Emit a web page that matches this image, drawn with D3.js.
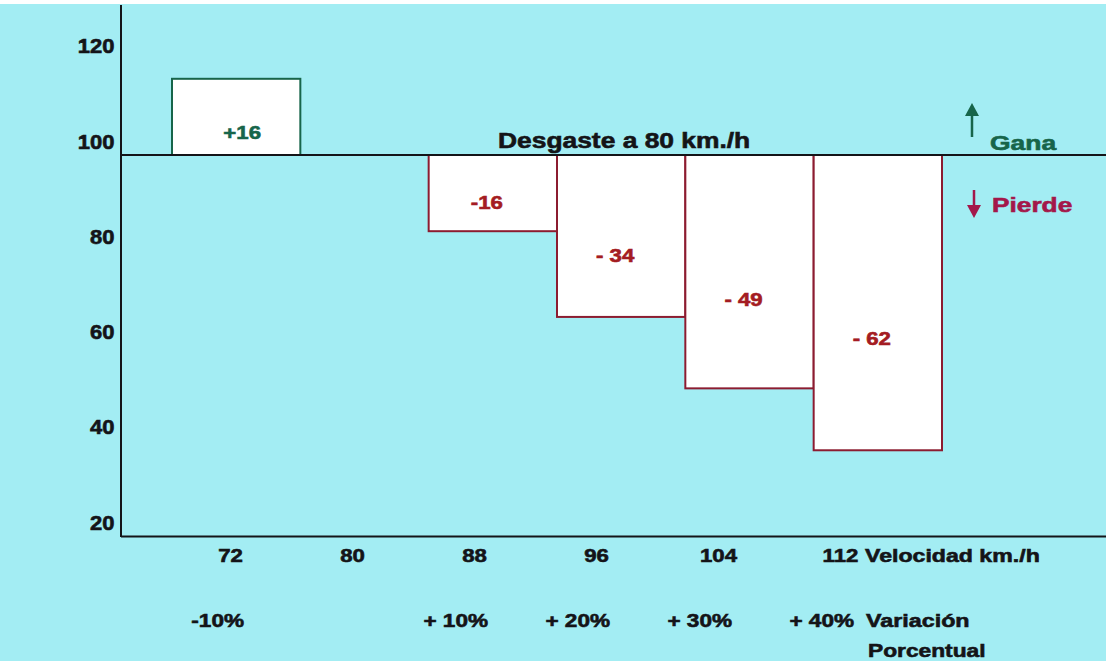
<!DOCTYPE html>
<html>
<head>
<meta charset="utf-8">
<script src="https://cdn.jsdelivr.net/npm/d3@7"></script>
<style>
  html, body { margin: 0; padding: 0; background: #fff; }
  svg { display: block; }
  text { font-family: "Liberation Sans", Arial, Helvetica, sans-serif; font-weight: bold; }
</style>
</head>
<body>
<svg id="chart" width="1106" height="661"></svg>
<script>
// Travel speed (km/h) and the change in wear relative to 80 km/h (= 100)
const speeds = [72, 80, 88, 96, 104, 112];
const wearChange = [16, null, -16, -34, -49, -62];
const changeLabels = ["+16", "", "-16", "- 34", "- 49", "- 62"];
const speedVariation = ["-10%", "", "+ 10%", "+ 20%", "+ 30%", "+ 40%"];
const yTicks = [20, 40, 60, 80, 100, 120];
const referenceLevel = 100;

const W = 1106, H = 661;
const ink = "#141418";
const gainColor = "#17654a";
const lossStroke = "#8c1c30";
const lossText = "#a41c22";
const loseLegend = "#a3174a";

const svg = d3.select("#chart");
svg.append("rect").attr("width", W).attr("height", H).attr("fill", "#fff");
svg.append("rect").attr("y", 4).attr("width", W).attr("height", H - 4).attr("fill", "#a3edf3");

const axisX = 121;
const y = d3.scaleLinear().domain([20, referenceLevel]).range([536, 155]);
const xBar = d3.scaleBand().domain(speeds).range([172, 942]).padding(0);
const xLab = d3.scalePoint().domain(speeds).range([230, 840]);

// heavy, slightly widened text
function label(g, x, yy, txt, size, fill, anchor = "start", sx = 1.22) {
  return g.append("text")
    .attr("transform", `translate(${x},${yy}) scale(${sx},1)`)
    .attr("text-anchor", anchor)
    .attr("font-size", size)
    .attr("fill", fill)
    .attr("stroke", fill)
    .attr("stroke-width", 0.6)
    .text(txt);
}

const rows = speeds.map((s, i) => ({
  speed: s, change: wearChange[i], label: changeLabels[i], pct: speedVariation[i]
}));
const barRows = rows.filter(d => d.change !== null);

// bars from the 100 line
svg.append("g").selectAll("rect")
  .data(barRows)
  .join("rect")
  .attr("x", d => xBar(d.speed))
  .attr("width", xBar.bandwidth())
  .attr("y", d => y(Math.max(referenceLevel, referenceLevel + d.change)))
  .attr("height", d => Math.abs(y(referenceLevel + d.change) - y(referenceLevel)))
  .attr("fill", "#fff")
  .attr("stroke", d => d.change > 0 ? gainColor : lossStroke)
  .attr("stroke-width", 2);

// reference line at 100
svg.append("line")
  .attr("x1", axisX).attr("x2", W)
  .attr("y1", y(referenceLevel)).attr("y2", y(referenceLevel))
  .attr("stroke", ink).attr("stroke-width", 2);

// axis lines
svg.append("line").attr("x1", axisX).attr("x2", axisX).attr("y1", 5).attr("y2", y(20) + 1)
  .attr("stroke", ink).attr("stroke-width", 2);
svg.append("line").attr("x1", axisX).attr("x2", W).attr("y1", y(20) + 0.5).attr("y2", y(20) + 0.5)
  .attr("stroke", ink).attr("stroke-width", 2);

// y axis labels
const gy = svg.append("g")
  .attr("transform", `translate(${axisX},0)`)
  .call(d3.axisLeft(y).tickValues(yTicks).tickSize(0).tickPadding(6).tickFormat(d3.format("d")));
gy.select(".domain").remove();
gy.selectAll("text")
  .attr("font-size", 20)
  .attr("fill", ink)
  .attr("stroke", ink)
  .attr("stroke-width", 0.6)
  .attr("dy", "-0.35em")
  .attr("transform", "scale(1.1,1)");

// x axis labels (speed)
const gx = svg.append("g")
  .attr("transform", `translate(0,${y(20)})`)
  .call(d3.axisBottom(xLab).tickSize(0));
gx.select(".domain").remove();
gx.selectAll("text")
  .attr("font-size", 18.5)
  .attr("fill", ink)
  .attr("stroke", ink)
  .attr("stroke-width", 0.6)
  .attr("y", 26)
  .attr("dy", 0)
  .attr("transform", "scale(1.2,1)");
const lastSpeed = speeds[speeds.length - 1];
label(svg, xLab(lastSpeed) + 25, y(20) + 26, "Velocidad km./h", 18.5, ink, "start", 1.25);

// percentage variation row
const pctG = svg.append("g");
rows.filter(d => d.pct).forEach(d => {
  label(pctG, xLab(d.speed) + 14, 627, d.pct, 18.5, ink, "end", 1.22);
});
label(svg, xLab(lastSpeed) + 26, 627, "Variación", 18.5, ink, "start", 1.26);
label(svg, xLab(lastSpeed) + 28, 657, "Porcentual", 18.5, ink, "start", 1.23);

// value labels inside bars
const valG = svg.append("g");
barRows.forEach(d => {
  const k = d.change > 0 ? 0.3 : 0.62;
  const cx = xBar(d.speed) + xBar.bandwidth() / 2 + (d.change > 0 ? 6 : -6);
  const cy = y(referenceLevel + d.change * k) + 6.5;
  label(valG, cx, cy, d.label, 18.5, d.change > 0 ? gainColor : lossText, "middle", 1.2);
});

// title on the reference line
label(svg, 498, 148, "Desgaste a 80 km./h", 22, ink, "start", 1.2);

// gain / loss legend
const leg = svg.append("g");
leg.append("line").attr("x1", 972).attr("x2", 972).attr("y1", 137).attr("y2", 112)
  .attr("stroke", gainColor).attr("stroke-width", 2.5);
leg.append("path").attr("d", "M972,103 L979,116 L965,116 Z").attr("fill", gainColor);
label(leg, 990, 150, "Gana", 21, gainColor, "start", 1.26);

leg.append("line").attr("x1", 974).attr("x2", 974).attr("y1", 190).attr("y2", 208)
  .attr("stroke", loseLegend).attr("stroke-width", 2.5);
leg.append("path").attr("d", "M974,218 L981,205 L967,205 Z").attr("fill", loseLegend);
label(leg, 992, 212, "Pierde", 21, loseLegend, "start", 1.25);
</script>
</body>
</html>
